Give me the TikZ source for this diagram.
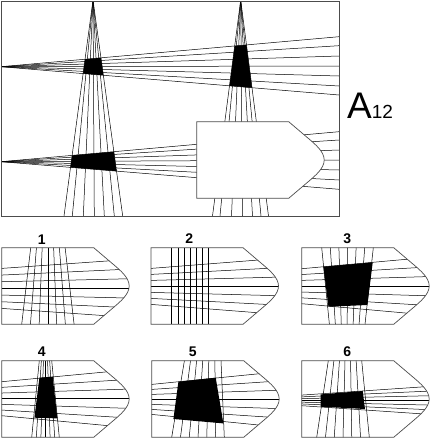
\documentclass[tikz,border=0pt]{standalone}
\usepackage{fontspec}
\setmainfont{Liberation Sans}
\tikzset{ray/.style={line width=0.5pt, color=black},
  outline/.style={line width=0.7pt, draw=black!70},
  frame/.style={line width=0.9pt, draw=black!70},
  lbl/.style={font=\bfseries\fontsize{14}{14}\selectfont}}
% the arrow-like plate, top left corner at (0,0)
\def\answershape[#1]{\path[#1] (0,0) -- (92,0) -- (112,17) .. controls (118.7,22.7) and (127.5,30) .. (127.5,38.3) .. controls (127.5,46.6) and (118.7,53.9) .. (112,59.6) -- (92,76.6) -- (0,76.6) -- cycle;}
% seven rays, top centre/half spread and bottom centre/half spread
\def\vfan(#1,#2)(#3,#4){%
  \draw[ray] ({#1-#2},0) -- ({#3-#4},76.6);
  \draw[ray] ({#1-#2*2/3},0) -- ({#3-#4*2/3},76.6);
  \draw[ray] ({#1-#2/3},0) -- ({#3-#4/3},76.6);
  \draw[ray] (#1,0) -- (#3,76.6);
  \draw[ray] ({#1+#2/3},0) -- ({#3+#4/3},76.6);
  \draw[ray] ({#1+#2*2/3},0) -- ({#3+#4*2/3},76.6);
  \draw[ray] ({#1+#2},0) -- ({#3+#4},76.6);}
% seven rays, left centre/half spread and right centre/half spread
\def\hfan(#1,#2)(#3,#4){%
  \draw[ray] (0,{#1-#2}) -- (128,{#3-#4});
  \draw[ray] (0,{#1-#2*2/3}) -- (128,{#3-#4*2/3});
  \draw[ray] (0,{#1-#2/3}) -- (128,{#3-#4/3});
  \draw[ray] (0,#1) -- (128,#3);
  \draw[ray] (0,{#1+#2/3}) -- (128,{#3+#4/3});
  \draw[ray] (0,{#1+#2*2/3}) -- (128,{#3+#4*2/3});
  \draw[ray] (0,{#1+#2}) -- (128,{#3+#4});}

\begin{document}
\begin{tikzpicture}[x=1pt, y=-1pt]
			\useasboundingbox (0,0) rectangle (429,439);
			
			%%%%% QUESTION %%%%%
			\begin{scope}
			\clip (1,1) rectangle (339,216);
			\draw[ray] (1,66.7) -- (339,36.7);
			\draw[ray] (1,66.7) -- (339,45.7);
			\draw[ray] (1,66.7) -- (339,56);
			\draw[ray] (1,66.7) -- (339,66);
			\draw[ray] (1,66.7) -- (339,76);
			\draw[ray] (1,66.7) -- (339,86);
			\draw[ray] (1,66.7) -- (339,95);
			
			\draw[ray] (1,161.7) -- (339,131.7);
			\draw[ray] (1,161.7) -- (339,140);
			\draw[ray] (1,161.7) -- (339,150);
			\draw[ray] (1,161.7) -- (339,160);
			\draw[ray] (1,161.7) -- (339,170);
			\draw[ray] (1,161.7) -- (339,180);
			\draw[ray] (1,161.7) -- (339,189.3);
			
			\draw[ray] (93,0) -- (64,216);
			\draw[ray] (93,0) -- (72.3,216);
			\draw[ray] (93,0) -- (83.3,216);
			\draw[ray] (93,0) -- (94.3,216);
			\draw[ray] (93,0) -- (104.3,216);
			\draw[ray] (93,0) -- (114.3,216);
			\draw[ray] (93,0) -- (122.7,216);
			
			\draw[ray] (240.7,0) -- (212.5,216);
			\draw[ray] (240.7,0) -- (220,216);
			\draw[ray] (240.7,0) -- (231.5,216);
			\draw[ray] (240.7,0) -- (242.5,216);
			\draw[ray] (240.7,0) -- (252.5,216);
			\draw[ray] (240.7,0) -- (261,216);
			\draw[ray] (240.7,0) -- (268.5,216);
			\end{scope}
			
			\begin{scope}
			\clip (1,66.7) -- (339,36.7) -- (339,95) -- cycle;
			\fill (93,0) -- (64,216) -- (122.7,216) -- cycle;
			\fill (240.7,0) -- (212.5,216) -- (268.5,216) -- cycle;
			\end{scope}
			\begin{scope}
			\clip (1,161.7) -- (339,131.7) -- (339,189.3) -- cycle;
			\fill (93,0) -- (64,216) -- (122.7,216) -- cycle;
			\end{scope}
			
			\begin{scope}[shift={(196.7,121.7)}]
			\answershape[fill=white, outline]
			\end{scope}
			\draw[frame] (1,1) rectangle (339,216);
			
			\node[anchor=base west, inner sep=0pt] (title) at (347,118.3) {\fontsize{37}{37}\selectfont A\fontsize{19}{19}\selectfont 12};
			
			%%%%% ANSWERS %%%%%
			\begin{scope}[shift={(1.7,247.7)}]
			\answershape[fill=white]
			\begin{scope}
			\answershape[clip]
			\vfan(46.2,17.2)(46.2,26.2)
			\hfan(40.7,20)(40.7,29)
			\end{scope}
			\answershape[outline]
			\end{scope}
			
			\begin{scope}[shift={(151,247.7)}]
			\answershape[fill=white]
			\begin{scope}
			\answershape[clip]
			\vfan(39,18.3)(39,18.3)
			\hfan(38.7,18)(38.7,28)
			\end{scope}
			\answershape[outline]
			\end{scope}
			
			\begin{scope}[shift={(301.7,247.7)}]
			\answershape[fill=white]
			\begin{scope}
			\answershape[clip]
			\vfan(45.8,25.8)(45.5,17.8)
			\hfan(38.5,17.5)(38.5,29)
			\fill (21.7,19) -- (71,14.7) -- (65.7,57.3) -- (26.7,59) -- cycle;
			\end{scope}
			\answershape[outline]
			\end{scope}
			
			\begin{scope}[shift={(1.7,360.7)}]
			\answershape[fill=white]
			\begin{scope}
			\answershape[clip]
			\vfan(43.8,6.2)(43.8,13.8)
			\hfan(38,17)(38,29)
			\fill (37.7,17) -- (51,16) -- (55.7,57.7) -- (32.7,57) -- cycle;
			\end{scope}
			\answershape[outline]
			\end{scope}
			
			\begin{scope}[shift={(151.7,360.7)}]
			\answershape[fill=white]
			\begin{scope}
			\answershape[clip]
			\vfan(51,18.3)(46.3,26.3)
			\hfan(38.7,15)(38.7,27.7)
			\fill (26.7,21) -- (64,17) -- (71.7,62.7) -- (21.7,58.3) -- cycle;
			\end{scope}
			\answershape[outline]
			\end{scope}
			
			\begin{scope}[shift={(301.7,360.7)}]
			\answershape[fill=white]
			\begin{scope}
			\answershape[clip]
			\vfan(43.3,16.7)(41.3,26.3)
			\hfan(39.7,5.3)(39.7,14)
			\fill (19,33.7) -- (61,30.3) -- (63.3,48.3) -- (19,46) -- cycle;
			\end{scope}
			\answershape[outline]
			\end{scope}
			
			\node[lbl] (n1) at (41.7,240) {1};
			\node[lbl] (n2) at (189.3,239) {2};
			\node[lbl] (n3) at (347.3,239) {3};
			\node[lbl] (n4) at (41.7,352) {4};
			\node[lbl] (n5) at (192.7,352) {5};
			\node[lbl] (n6) at (347.3,352) {6};
			
		\end{tikzpicture}
\end{document}
